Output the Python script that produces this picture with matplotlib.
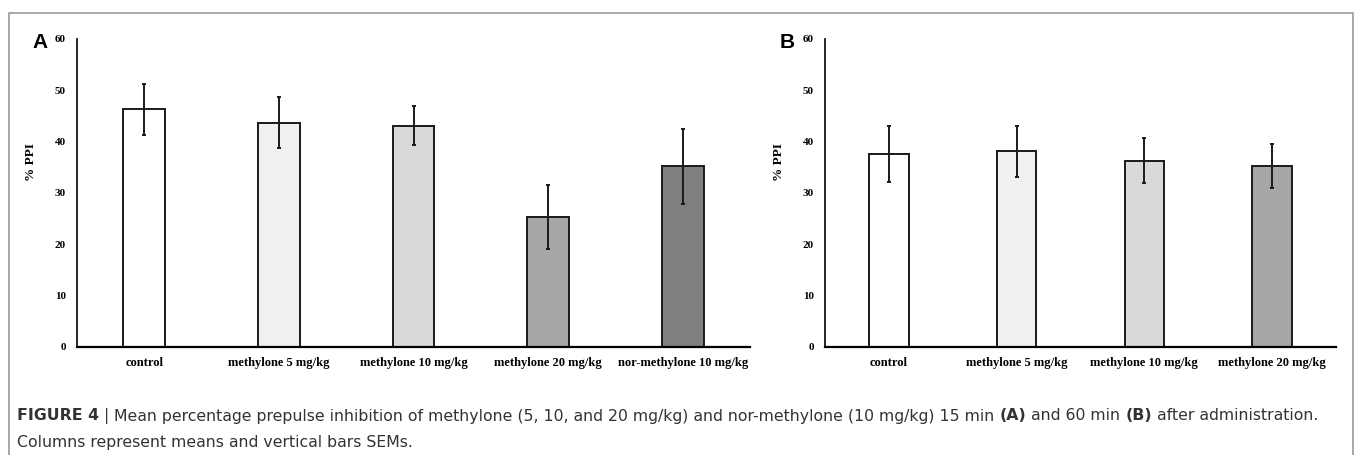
import numpy as np
import matplotlib
matplotlib.use("Agg")
import matplotlib.pyplot as plt
from matplotlib.lines import Line2D

# data
labels_a = ["control", "methylone 5 mg/kg", "methylone 10 mg/kg",
            "methylone 20 mg/kg", "nor-methylone 10 mg/kg"]
means_a = [46.3, 43.7, 43.1, 25.4, 35.2]
sem_a = [5.0, 4.95, 3.8, 6.25, 7.35]

labels_b = ["control", "methylone 5 mg/kg", "methylone 10 mg/kg",
            "methylone 20 mg/kg"]
means_b = [37.6, 38.1, 36.3, 35.2]
sem_b = [5.4, 4.95, 4.35, 4.3]

fills = ["#ffffff", "#f0f0f0", "#d9d9d9", "#a6a6a6", "#7f7f7f"]
yticks = [0, 10, 20, 30, 40, 50, 60]

W, H = 1358, 455
fig = plt.figure(figsize=(W / 100, H / 100), dpi=100)

serif = "Liberation Serif"


def panel(left_px, right_px, labels, means, sems, letter):
    bot = (H - 347) / H
    top = (H - 39) / H
    ax = fig.add_axes([left_px / W, bot, (right_px - left_px) / W, top - bot])
    x = np.arange(len(labels))
    ax.bar(x, means, width=0.31, color=fills[:len(labels)],
           edgecolor="#1a1a1a", linewidth=1.4, zorder=2)
    ax.errorbar(x, means, yerr=sems, fmt="none", ecolor="#1a1a1a",
                elinewidth=1.4, capsize=1.2, capthick=1.4, zorder=3)
    ax.set_xlim(-0.5, len(labels) - 0.5)
    ax.set_ylim(0, 60)
    ax.set_yticks(yticks)
    ax.set_xticks(x)
    ax.set_xticklabels(labels, fontfamily=serif, fontweight="bold", fontsize=9)
    ax.set_yticklabels([str(t) for t in yticks], fontfamily=serif,
                       fontweight="bold", fontsize=8)
    ax.tick_params(axis="both", length=0)
    ax.tick_params(axis="x", pad=7)
    ax.tick_params(axis="y", pad=8)
    for s in ["top", "right"]:
        ax.spines[s].set_visible(False)
    ax.spines["left"].set_linewidth(1.2)
    ax.spines["bottom"].set_linewidth(1.6)
    ax.set_ylabel("% PPI", fontfamily=serif, fontweight="bold", fontsize=9.5)
    ax.yaxis.set_label_coords(-40 / (right_px - left_px), 0.6)
    # panel letter
    fig.text((left_px - 45) / W, 1 - 43 / H, letter, fontsize=15,
             fontweight="bold", family="Liberation Sans", va="center",
             ha="left")
    return ax


panel(77, 750, labels_a, means_a, sem_a, "A")
panel(825, 1336, labels_b, means_b, sem_b, "B")

# outer frame (open at the bottom)
fig.add_artist(Line2D([9 / W, 9 / W, 1353 / W, 1353 / W],
                      [-0.05, 1 - 13 / H, 1 - 13 / H, -0.05],
                      transform=fig.transFigure, color="#9a9a9a", lw=1.2))

# caption, drawn piece by piece so bold and regular parts can mix
line1 = [("FIGURE 4", "bold"), (" | ", "normal"),
         ("Mean percentage prepulse inhibition of methylone (5, 10, and 20 mg/kg) "
          "and nor-methylone (10 mg/kg) 15 min ", "normal"),
         ("(A)", "bold"), (" and 60 min ", "normal"), ("(B)", "bold"),
         (" after administration.", "normal")]
line2 = [("Columns represent means and vertical bars SEMs.", "normal")]

renderer = fig.canvas.get_renderer()
cap_family = "DejaVu Sans"


def write_line(parts, x0, y0, size):
    x = x0
    texts = []
    for txt, wt in parts:
        t = fig.text(x / W, 1 - y0 / H, txt, fontsize=size, fontweight=wt,
                     family=cap_family, color="#333333", va="center",
                     ha="left")
        x += t.get_window_extent(renderer).width
        texts.append(t)
    return x, texts


# size the caption so the first line runs to about the same width as the original
end, tmp = write_line(line1, 17, 416, 10)
for t in tmp:
    t.remove()
cap_size = 10 * (1318 - 17) / (end - 17)

write_line(line1, 17, 416, cap_size)
write_line(line2, 17, 442, cap_size)

fig.savefig("out.png", dpi=100)
